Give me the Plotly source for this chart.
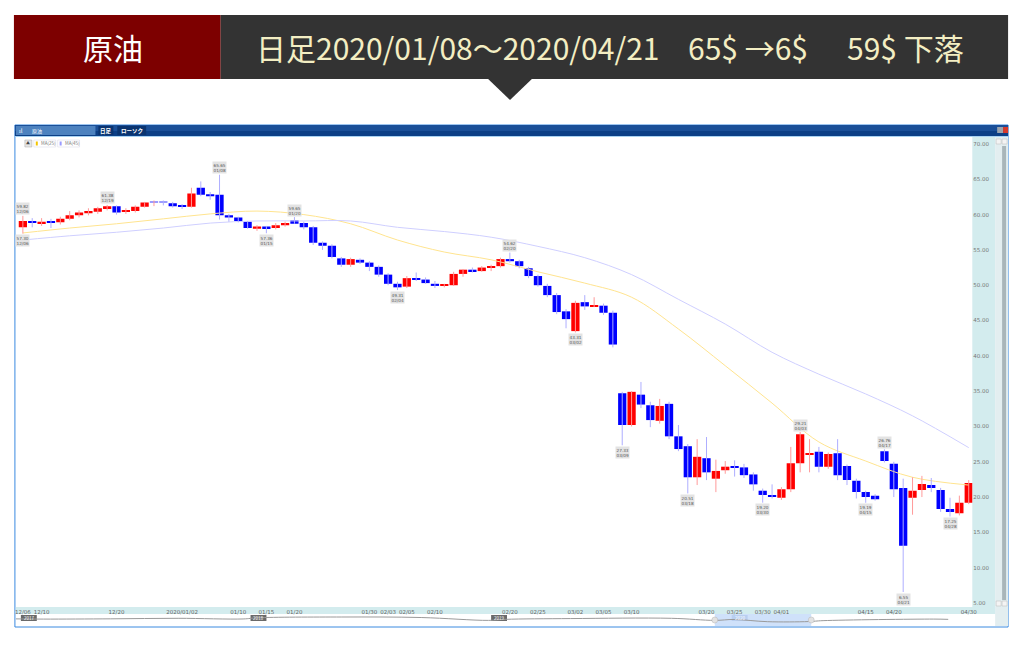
import plotly.graph_objects as go

W, H = 1027, 657

dates = [
    "2019/12/06", "2019/12/09", "2019/12/10", "2019/12/11", "2019/12/12", "2019/12/13",
    "2019/12/16", "2019/12/17", "2019/12/18", "2019/12/19", "2019/12/20", "2019/12/23",
    "2019/12/24", "2019/12/26", "2019/12/27", "2019/12/30", "2019/12/31",
    "2020/01/02", "2020/01/03", "2020/01/06", "2020/01/07", "2020/01/08", "2020/01/09",
    "2020/01/10", "2020/01/13", "2020/01/14", "2020/01/15", "2020/01/16", "2020/01/17",
    "2020/01/20", "2020/01/21", "2020/01/22", "2020/01/23", "2020/01/24", "2020/01/27",
    "2020/01/28", "2020/01/29", "2020/01/30", "2020/01/31",
    "2020/02/03", "2020/02/04", "2020/02/05", "2020/02/06", "2020/02/07", "2020/02/10",
    "2020/02/11", "2020/02/12", "2020/02/13", "2020/02/14", "2020/02/17", "2020/02/18",
    "2020/02/19", "2020/02/20", "2020/02/21", "2020/02/24", "2020/02/25", "2020/02/26",
    "2020/02/27", "2020/02/28",
    "2020/03/02", "2020/03/03", "2020/03/04", "2020/03/05", "2020/03/06", "2020/03/09",
    "2020/03/10", "2020/03/11", "2020/03/12", "2020/03/13", "2020/03/16", "2020/03/17",
    "2020/03/18", "2020/03/19", "2020/03/20", "2020/03/23", "2020/03/24", "2020/03/25",
    "2020/03/26", "2020/03/27", "2020/03/30", "2020/03/31",
    "2020/04/01", "2020/04/02", "2020/04/03", "2020/04/06", "2020/04/07", "2020/04/08",
    "2020/04/09", "2020/04/13", "2020/04/14", "2020/04/15", "2020/04/16", "2020/04/17",
    "2020/04/20", "2020/04/21", "2020/04/22", "2020/04/23", "2020/04/24", "2020/04/27",
    "2020/04/28", "2020/04/29", "2020/04/30",
]

opens = [
    58.2, 59.1, 58.8, 59.1, 58.9, 59.4, 59.9, 60.2, 60.4, 60.8, 61.2, 60.4, 60.5, 61.1, 61.70, 61.70, 61.6,
    61.3, 61.1, 63.8, 62.9, 62.8, 59.9, 59.6, 59.0, 58.0, 58.3, 58.1, 58.5, 59.2, 58.8, 58.2, 56.0, 55.6,
    53.8, 52.9, 53.6, 53.2, 52.6,
    51.5, 50.2, 49.8, 51.0, 50.8, 50.2, 49.9, 50.0, 51.6, 52.2, 52.0, 52.5, 52.7, 53.7, 53.4, 52.4, 51.3,
    49.9, 48.6, 46.3,
    43.5, 47.6, 47.0, 47.1, 46.1, 34.7, 30.2, 34.5, 33.0, 30.8, 33.2, 28.6, 27.2, 22.8, 25.5, 22.6, 23.8,
    24.4, 24.2, 23.2, 20.9, 20.3,
    19.9, 21.1, 24.8, 25.96, 26.4, 24.3, 26.2, 24.4, 22.3, 20.7, 20.2, 26.5, 24.7, 21.3, 19.9, 21.0, 21.7,
    21.0, 18.3, 17.7, 19.2,
]
highs = [
    59.82, 59.5, 59.5, 59.4, 59.7, 60.5, 60.6, 60.9, 61.1, 61.38, 61.3, 60.9, 61.3, 61.8, 62.0, 62.0, 61.8,
    61.5, 63.8, 64.7, 63.2, 65.65, 60.1, 59.7, 59.1, 58.5, 58.4, 58.8, 59.0, 59.65, 59.0, 58.4, 56.2, 55.8,
    54.0, 53.9, 53.8, 53.4, 52.8,
    51.7, 50.5, 51.3, 51.8, 51.1, 50.6, 50.2, 51.9, 52.3, 52.5, 52.7, 52.9, 53.9, 54.62, 53.6, 52.6, 51.5,
    50.2, 48.9, 46.6,
    47.8, 48.6, 48.3, 47.4, 46.4, 34.9, 35.0, 36.3, 33.5, 33.9, 33.5, 30.2, 27.5, 28.2, 28.5, 25.3, 25.1,
    25.2, 24.7, 23.5, 21.2, 21.8,
    21.4, 27.1, 29.21, 28.2, 27.1, 26.3, 28.2, 24.6, 22.6, 20.9, 20.4, 26.76, 25.0, 22.6, 22.8, 23.0, 22.7,
    21.3, 19.9, 20.2, 22.4,
]
lows = [
    57.30, 58.2, 58.4, 58.1, 58.6, 59.2, 59.6, 59.9, 60.1, 60.6, 60.0, 60.1, 60.3, 61.0, 61.2, 61.3, 61.0,
    60.8, 61.0, 62.6, 62.1, 59.3, 59.0, 58.9, 58.0, 57.7, 57.36, 57.9, 58.3, 58.7, 57.9, 55.7, 55.0, 53.8,
    52.6, 52.6, 53.0, 52.0, 51.2,
    50.0, 49.31, 49.6, 50.6, 50.2, 49.6, 49.7, 49.9, 51.2, 51.8, 51.9, 52.0, 52.5, 53.2, 52.4, 51.0, 49.8,
    48.3, 45.9, 43.9,
    43.31, 46.5, 46.9, 45.8, 41.2, 27.33, 30.0, 32.6, 29.9, 30.4, 28.2, 26.5, 20.51, 21.7, 22.4, 20.7, 23.3,
    22.9, 22.7, 20.9, 19.20, 19.8,
    19.6, 20.7, 23.5, 23.5, 23.5, 24.0, 22.4, 21.7, 19.8, 19.19, 19.5, 24.9, 20.0, 6.55, 17.5, 20.0, 20.7,
    17.9, 17.25, 17.4, 19.0,
]
closes = [
    59.1, 58.8, 59.0, 58.8, 59.4, 59.9, 60.3, 60.5, 60.9, 61.2, 60.3, 60.6, 61.1, 61.7, 61.72, 61.68, 61.2,
    61.1, 63.0, 62.8, 62.6, 59.9, 59.6, 59.1, 58.1, 58.3, 58.05, 58.5, 58.8, 58.7, 58.2, 56.0, 55.6, 54.0,
    52.9, 53.7, 53.2, 52.6, 51.5,
    50.2, 49.7, 51.0, 50.8, 50.3, 49.9, 50.0, 51.6, 52.2, 52.0, 52.5, 52.7, 53.7, 53.4, 52.7, 51.3, 50.0,
    48.6, 46.2, 45.2,
    47.5, 47.0, 47.2, 46.1, 41.6, 30.2, 34.9, 33.1, 30.9, 32.9, 28.6, 26.8, 22.8, 25.7, 23.5, 23.7, 24.3,
    24.2, 23.1, 21.8, 20.3, 20.1,
    21.1, 24.8, 28.9, 26.2, 24.3, 26.1, 23.1, 22.4, 20.7, 20.0, 19.7, 25.1, 21.1, 13.1, 20.9, 21.85, 21.3,
    18.3, 17.9, 19.2, 22.0,
]

ma_dates = ["2019/12/06", "2019/12/13", "2019/12/20", "2019/12/30", "2020/01/07", "2020/01/14",
            "2020/01/21", "2020/01/28", "2020/02/04", "2020/02/11", "2020/02/18", "2020/02/25",
            "2020/03/03", "2020/03/10", "2020/03/17", "2020/03/24", "2020/03/31", "2020/04/07",
            "2020/04/15", "2020/04/22", "2020/04/30"]
ma25_vals = [57.4, 58.1, 58.7, 59.4, 60.1, 60.5, 60.0, 58.7, 56.4, 54.7, 53.6, 51.9,
             50.3, 48.3, 43.8, 38.6, 33.3, 27.8, 25.1, 22.8, 21.7]
ma45_vals = [56.4, 57.0, 57.5, 58.1, 58.8, 59.1, 59.1, 59.1, 58.2, 57.6, 56.8, 55.5,
             53.9, 51.5, 48.0, 44.5, 40.5, 37.4, 34.6, 31.5, 27.0]

tick_dates = ["2019/12/06", "2019/12/10", "2019/12/20", "2020/01/02", "2020/01/10", "2020/01/15",
              "2020/01/20", "2020/01/30", "2020/02/03", "2020/02/05", "2020/02/10", "2020/02/20",
              "2020/02/25", "2020/03/02", "2020/03/05", "2020/03/10", "2020/03/20", "2020/03/25",
              "2020/03/30", "2020/04/01", "2020/04/15", "2020/04/20", "2020/04/30"]
tick_text = ["12/06", "12/10", "12/20", "2020/01/02", "01/10", "01/15", "01/20", "01/30", "02/03",
             "02/05", "02/10", "02/20", "02/25", "03/02", "03/05", "03/10", "03/20", "03/25",
             "03/30", "04/01", "04/15", "04/20", "04/30"]

price_ticks = [70, 65, 60, 55, 50, 45, 40, 35, 30, 25, 20, 15, 10, 5]

mark_dates = ["2019/12/06", "2019/12/06", "2019/12/19", "2020/01/08", "2020/01/15", "2020/01/20",
              "2020/02/04", "2020/02/20", "2020/03/02", "2020/03/09", "2020/03/18", "2020/03/30",
              "2020/04/03", "2020/04/15", "2020/04/17", "2020/04/21", "2020/04/28"]
mark_prices = [59.82, 57.30, 61.38, 65.65, 57.36, 59.65, 49.31, 54.62, 43.31, 27.33, 20.51, 19.20,
               29.21, 19.19, 26.76, 6.55, 17.25]
mark_labels = ["12/06", "12/06", "12/19", "01/08", "01/15", "01/20", "02/04", "02/20", "03/02",
               "03/09", "03/18", "03/30", "04/03", "04/15", "04/17", "04/21", "04/28"]
mark_side = ["up", "down", "up", "up", "down", "up", "down", "up", "down", "down", "down", "down",
             "up", "down", "up", "down", "down"]

nav_years = [2016.93, 2017.06, 2017.34, 2017.62, 2017.89, 2017.95, 2018.30, 2018.63, 2018.91,
             2018.98, 2019.25, 2019.67, 2019.85, 2019.93, 2020.07, 2020.24, 2020.30, 2020.76, 2020.82]
nav_levels = [52, 50, 52, 56, 51, 60, 66, 62, 40, 48, 54, 56, 40, 47, 30, 31, 38, 50, 48]

year_badges = ["2017", "2018", "2019", "2020"]


def px(x):
    return x / W


def py(y):
    return 1 - y / H


def rect(x0, y0, x1, y1, fill, line=None, lw=0, layer="below"):
    d = dict(type="rect", xref="paper", yref="paper", x0=px(x0), x1=px(x1), y0=py(y1), y1=py(y0),
             fillcolor=fill, layer=layer, line=dict(width=lw, color=line or fill))
    return d


fig = go.Figure()

fig.add_trace(go.Scatter(x=ma_dates, y=ma25_vals, mode="lines", hoverinfo="skip",
                         line=dict(color="#ffe48f", width=1, shape="spline")))
fig.add_trace(go.Scatter(x=ma_dates, y=ma45_vals, mode="lines", hoverinfo="skip",
                         line=dict(color="#cfcfff", width=1, shape="spline")))

up_x, up_y, dn_x, dn_y = [], [], [], []
for d, o, h, l, c in zip(dates, opens, highs, lows, closes):
    if c > o:
        up_x += [d, d, None]
        up_y += [l, h, None]
    else:
        dn_x += [d, d, None]
        dn_y += [l, h, None]
fig.add_trace(go.Scatter(x=up_x, y=up_y, mode="lines", hoverinfo="skip",
                         line=dict(color="#ff9a9a", width=1)))
fig.add_trace(go.Scatter(x=dn_x, y=dn_y, mode="lines", hoverinfo="skip",
                         line=dict(color="#aeaeff", width=1)))

bases, heights, colors = [], [], []
for o, c in zip(opens, closes):
    bases.append(min(o, c))
    heights.append(max(abs(c - o), 0.14))
    if abs(c - o) < 0.05:
        colors.append("#9c9cff")
    elif c > o:
        colors.append("#ff0000")
    else:
        colors.append("#0000ff")
fig.add_trace(go.Bar(x=dates, y=heights, base=bases, width=0.88, hoverinfo="skip",
                     marker=dict(color=colors, line=dict(width=0))))

fig.add_trace(go.Scatter(x=nav_years, y=nav_levels, mode="lines", xaxis="x3", yaxis="y3",
                         hoverinfo="skip", line=dict(color="#9a9a9a", width=1, shape="spline")))

shapes = []
# header
shapes.append(rect(13, 15, 221, 79, "#7d0000"))
shapes.append(rect(221, 15, 1013, 79, "#333333"))
shapes.append(dict(type="path", xref="paper", yref="paper",
                   path=f"M {px(490)},{py(79)} L {px(534)},{py(79)} L {px(512)},{py(100)} Z",
                   fillcolor="#333333", line=dict(width=0)))
# window
shapes.append(rect(14, 125, 1013, 627, "#ffffff", line="#3a8ae0", lw=1))
shapes.append(rect(14, 125, 1013, 131, "#1a4f98"))
shapes.append(rect(14, 131, 1013, 136, "#0c3f86"))
shapes.append(rect(14, 136, 1013, 137, "#a8d2f2"))
shapes.append(rect(15, 126, 95, 135, "#4d82bf"))
shapes.append(rect(98, 126, 113, 135, "#0a3470"))
shapes.append(rect(117, 126, 146, 135, "#0a3470"))
shapes.append(rect(1002, 127, 1008, 133, "#9aa3ad"))
shapes.append(rect(1008, 127, 1013, 133, "#d83a2a"))
# right axis panel & scrollbar
shapes.append(rect(977, 137, 1000, 607, "#d3ecee"))
shapes.append(rect(1000, 137, 1013, 626, "#e3eef0"))
shapes.append(rect(1007, 146, 1011, 600, "#a9b6ba"))
shapes.append(rect(1001, 139, 1006, 144, "#f4f4f4", line="#bbbbbb", lw=0.5))
shapes.append(rect(1007, 139, 1012, 144, "#f4f4f4", line="#bbbbbb", lw=0.5))
shapes.append(rect(1001, 601, 1006, 606, "#f4f4f4", line="#bbbbbb", lw=0.5))
shapes.append(rect(1007, 601, 1012, 606, "#f4f4f4", line="#bbbbbb", lw=0.5))
# x band and navigator
shapes.append(rect(15, 607, 1000, 614, "#d3ecee"))
shapes.append(rect(718, 614, 815, 626, "#cfe1fa"))
shapes.append(dict(type="circle", xref="paper", yref="paper", x0=px(715), x1=px(721), y0=py(623),
                   y1=py(617), fillcolor="#e2e2e2", line=dict(color="#b5b5b5", width=0.5)))
shapes.append(dict(type="circle", xref="paper", yref="paper", x0=px(812), x1=px(818), y0=py(623),
                   y1=py(617), fillcolor="#e2e2e2", line=dict(color="#b5b5b5", width=0.5)))
badge_x = [28, 259, 501, 743]
for i, bx in enumerate(badge_x):
    shapes.append(rect(bx - 8, 615, bx + 8, 621, "#b9cff0" if i == 3 else "#6a6a6a"))
# legend boxes
shapes.append(rect(24, 140, 31, 147, "#e6e6e6", line="#aaaaaa", lw=0.5, layer="above"))
shapes.append(rect(33, 140, 55, 147, "#ffffff", line="#d6d6e6", lw=0.5, layer="above"))
shapes.append(rect(57, 140, 79, 147, "#ffffff", line="#d6d6e6", lw=0.5, layer="above"))
shapes.append(rect(35, 141.5, 37, 145.5, "#f2c500", layer="above"))
shapes.append(rect(59, 141.5, 61, 145.5, "#9a9aff", layer="above"))

annotations = []


def label(x, y, text, size, color, xanchor="center", family="Noto Sans CJK JP"):
    annotations.append(dict(xref="paper", yref="paper", x=px(x), y=py(y), text=text, showarrow=False,
                            xanchor=xanchor, yanchor="middle",
                            font=dict(size=size, color=color, family=family)))


label(113, 47, "原油", 30, "#ffffff")
label(254, 47, "日足2020/01/08～2020/04/21", 30, "#f3eec3", xanchor="left")
label(689, 47, "65$ →6$", 30, "#f3eec3", xanchor="left")
label(849, 47, "59$ 下落", 30, "#f3eec3", xanchor="left")
label(20, 130.5, "ıl", 6, "#ffffff")
label(29, 130.5, "原油", 5, "#ffffff", xanchor="left")
label(105.5, 130.5, "<b>日足</b>", 5.5, "#ffffff")
label(131.5, 130.5, "<b>ローソク</b>", 5.5, "#ffffff")
label(27.5, 143.5, "▲", 4, "#444444")
label(38, 143.5, "MA(25)", 4.5, "#777777", xanchor="left")
label(62, 143.5, "MA(45)", 4.5, "#777777", xanchor="left")
for i, bx in enumerate(badge_x):
    label(bx, 618, year_badges[i], 4.5, "#ffffff")

for d, p, t, s in zip(mark_dates, mark_prices, mark_labels, mark_side):
    annotations.append(dict(xref="x", yref="y", x=d, y=p, text=f"{p:.2f}<br>{t}", showarrow=False,
                            yshift=7 if s == "up" else -7, yanchor="middle", xanchor="center",
                            bgcolor="#e3e3e3", borderpad=0.5,
                            font=dict(size=4.2, color="#555555", family="DejaVu Sans")))

fig.update_layout(
    width=W, height=H, margin=dict(l=0, r=0, t=0, b=0),
    paper_bgcolor="#ffffff", plot_bgcolor="#ffffff",
    showlegend=False, barmode="overlay",
    shapes=shapes, annotations=annotations,
    font=dict(family="DejaVu Sans"),
    xaxis=dict(type="category", categoryorder="array", categoryarray=dates,
               range=[-0.743, 101.38], domain=[px(15), px(977)], anchor="y",
               tickmode="array", tickvals=tick_dates, ticktext=tick_text,
               tickfont=dict(size=5.5, color="#666666"), showgrid=False, zeroline=False,
               showline=False, ticks="", fixedrange=True),
    yaxis=dict(range=[4.43, 70.99], domain=[py(607), py(137)], side="right", anchor="x",
               tickmode="array", tickvals=price_ticks, ticktext=[f"{v:.2f}" for v in price_ticks],
               tickfont=dict(size=5.5, color="#777777"), showgrid=False, zeroline=False,
               showline=False, ticks="", fixedrange=True),
    xaxis3=dict(range=[2016.946, 2020.92], domain=[px(15), px(977)], anchor="y3", visible=False),
    yaxis3=dict(range=[-3, 89], domain=[py(626), py(614)], anchor="x3", visible=False),
)

fig.write_html("out.html", config={"displayModeBar": False},
               post_script="document.body.style.margin='0';")
